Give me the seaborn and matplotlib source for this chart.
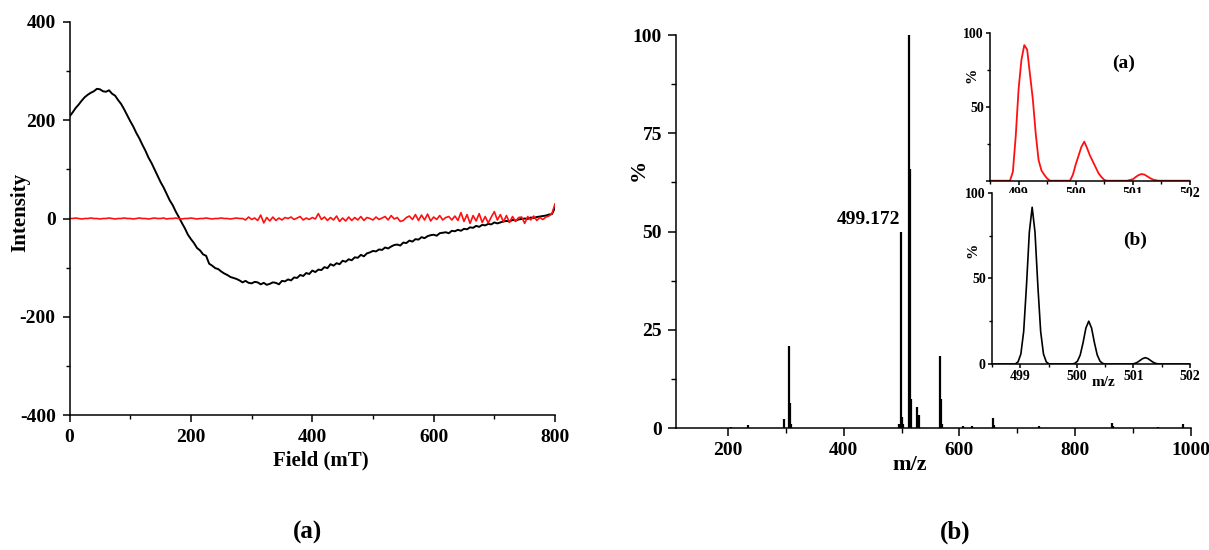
import numpy as np
import pandas as pd
import matplotlib
matplotlib.use("Agg")
import matplotlib.pyplot as plt
import seaborn as sns
from matplotlib.ticker import MultipleLocator, FixedLocator

# ---------------- data ----------------
# EPR spectra, sampled every 5 mT from 0 to 800 mT
field_step = 5
epr_sample = [
    208, 216, 225, 232, 240, 247, 252, 256, 259, 264,
    263, 259, 258, 261, 254, 250, 241, 233, 222, 210,
    198, 187, 174, 163, 150, 138, 124, 113, 100, 87,
    74, 63, 50, 37, 27, 14, 3, -9, -20, -33,
    -42, -50, -60, -65, -73, -76, -92, -96, -101, -103,
    -108, -112, -115, -119, -121, -123, -126, -130, -127, -131,
    -132, -129, -130, -134, -131, -135, -133, -130, -131, -134,
    -127, -128, -124, -126, -120, -121, -115, -117, -111, -113,
    -106, -109, -104, -105, -99, -101, -93, -96, -91, -93,
    -86, -88, -83, -85, -79, -80, -74, -77, -71, -69,
    -66, -67, -63, -64, -59, -61, -57, -54, -53, -55,
    -49, -50, -45, -47, -42, -43, -38, -40, -36, -34,
    -33, -35, -30, -29, -28, -30, -25, -26, -23, -25,
    -21, -22, -18, -19, -15, -17, -13, -14, -11, -12,
    -8, -10, -8, -6, -5, -6, -3, -4, -2, -1,
    0, -1, 2, 1, 3, 4, 5, 6, 8, 9,
    22,
]
epr_blank = [
    0, 0, 1, 0, -1, 0, 0, 1, 0, 0,
    -1, 0, 0, 1, 0, -1, 0, 0, 1, 0,
    0, -1, 0, 1, 0, 0, -1, 0, 1, 0,
    0, 1, -1, 0, 0, 1, 0, -1, 0, 0,
    1, 0, -1, 0, 0, 1, 0, -1, 0, 0,
    1, 0, 0, -1, 0, 1, 0, 0, -3, 3,
    -2, 1, -4, 7, -9, 2, -5, 3, -4, 1,
    -3, 2, 0, 3, -2, 1, 4, -3, 1, -2,
    2, -1, 10, -2, 3, -4, 2, -3, 5, -6,
    1, -5, 3, -4, 2, -3, 4, -4, 2, 0,
    -3, 3, -2, 1, 4, -3, 6, -1, 2, -6,
    -4, 2, 5, -2, 8, -4, 7, -3, 9, -5,
    3, -2, 6, -3, 2, 4, -3, 5, -4, 12,
    -6, 8, -10, 6, -5, 10, -8, 4, -9, 3,
    14, -3, 8, -7, 6, -8, 4, -6, 2, 3,
    -10, 4, -3, 5, -4, 2, -2, 3, 5, 10,
    30,
]
field = np.arange(len(epr_sample)) * field_step

# Mass spectrum sticks
ms_mz = [205, 234, 296, 306, 307.5, 309, 496, 499.2, 501, 503, 513, 514,
         515.5, 526.5, 530, 566.5, 568, 570, 606, 621, 658.5, 660, 738,
         863.5, 865, 944, 986.5]
ms_int = [0.4, 0.8, 2.3, 20.8, 6.5, 1.2, 1.2, 49.8, 3.0, 1.0, 100, 66,
          7.4, 5.4, 3.5, 18.5, 7.4, 1.0, 0.5, 0.5, 2.7, 0.9, 0.5,
          1.4, 0.7, 0.3, 1.1]

# Inset (a): measured isotope pattern
iso_a_mz = [498.5, 498.85, 498.9, 498.95, 499.0, 499.05, 499.1, 499.15, 499.2,
            499.25, 499.3, 499.35, 499.4, 499.45, 499.5, 499.55, 499.9, 499.95,
            500.0, 500.05, 500.1, 500.15, 500.2, 500.25, 500.3, 500.35, 500.4,
            500.45, 500.5, 500.55, 500.9, 501.0, 501.05, 501.1, 501.15, 501.2,
            501.25, 501.3, 501.35, 501.4, 501.45, 502.0]
iso_a_pct = [0, 0, 6, 30, 62, 82, 92, 89, 72,
             55, 32, 14, 7, 4, 1.5, 0, 0, 4,
             11, 17, 23, 26.5, 22, 17, 13, 9, 5,
             2.5, 0.5, 0, 0, 1, 2.5, 3.8, 4.5, 4.2,
             3, 1.8, 0.8, 0.3, 0, 0]

# Inset (b): simulated isotope pattern
iso_b_mz = [498.5,
            498.91, 498.96, 499.01, 499.06, 499.11, 499.16, 499.21, 499.26, 499.31, 499.36, 499.41, 499.46, 499.51,
            499.91, 499.96, 500.01, 500.06, 500.11, 500.16, 500.21, 500.26, 500.31, 500.36, 500.41, 500.46, 500.51,
            500.91, 500.96, 501.01, 501.06, 501.11, 501.16, 501.21, 501.26, 501.31, 501.36, 501.41, 501.46, 501.51,
            502.0]
iso_b_pct = [0,
             0, 1.2, 5.8, 19, 46, 77, 91.5, 77, 46, 19, 5.8, 1.2, 0,
             0, 0.3, 1.6, 5.3, 12.5, 21, 25, 21, 12.5, 5.3, 1.6, 0.3, 0,
             0, 0.05, 0.2, 0.8, 1.9, 3.1, 3.7, 3.1, 1.9, 0.8, 0.2, 0.05, 0,
             0]

# ---------------- style ----------------
sns.set_theme(style="ticks")
plt.rcParams['font.family'] = ['Liberation Serif', 'DejaVu Serif']
plt.rcParams['font.weight'] = 'bold'
plt.rcParams['axes.labelweight'] = 'bold'
plt.rcParams['axes.edgecolor'] = 'black'
plt.rcParams['xtick.color'] = 'black'
plt.rcParams['ytick.color'] = 'black'
plt.rcParams['text.color'] = 'black'
plt.rcParams['axes.labelcolor'] = 'black'
plt.rcParams['axes.unicode_minus'] = False

W, H = 1209, 550
fig = plt.figure(figsize=(W / 100, H / 100), dpi=100)
fig.patch.set_facecolor('white')


def rect(l, t, r, b):
    return [l / W, 1 - b / H, (r - l) / W, (b - t) / H]


def fpx(x, y):
    return x / W, 1 - y / H


def style_axis(ax, fs, major_len, minor_len, pad):
    sns.despine(ax=ax)
    for s in ('left', 'bottom'):
        ax.spines[s].set_linewidth(1.1)
    ax.tick_params(which='major', direction='out', length=major_len, width=1.1,
                   labelsize=fs, pad=pad)
    ax.tick_params(which='minor', direction='out', length=minor_len, width=1.0)
    ax.set_facecolor('white')


def place_labels(ax, xlab, xpos, ylab, ypos, fs):
    ax.set_xlabel(xlab, fontsize=fs, fontweight='bold')
    ax.set_ylabel(ylab, fontsize=fs, fontweight='bold')
    ax.xaxis.set_label_coords(*fpx(*xpos), transform=fig.transFigure)
    ax.yaxis.set_label_coords(*fpx(*ypos), transform=fig.transFigure)
    ax.xaxis.label.set_va('center')
    ax.yaxis.label.set_va('center')
    ax.yaxis.label.set_ha('center')


# ---------------- left: EPR ----------------
ax1 = fig.add_axes(rect(69.6, 22, 555, 415))
df_epr = pd.DataFrame({'field': field, 'sample': epr_sample, 'blank': epr_blank})
sns.lineplot(data=df_epr, x='field', y='sample', ax=ax1, color='black', lw=1.4)
sns.lineplot(data=df_epr, x='field', y='blank', ax=ax1, color='#ff1010', lw=1.2)
ax1.set_xlim(0, 800)
ax1.set_ylim(-400, 400)
ax1.xaxis.set_major_locator(MultipleLocator(200))
ax1.xaxis.set_minor_locator(MultipleLocator(100))
ax1.yaxis.set_major_locator(MultipleLocator(200))
ax1.yaxis.set_minor_locator(MultipleLocator(100))
style_axis(ax1, 14, 5, 3, 5)
place_labels(ax1, 'Field (mT)', (321, 460), 'Intensity', (20, 212), 15)

# ---------------- right: mass spectrum ----------------
ax2 = fig.add_axes(rect(676, 35, 1190.7, 428.3))
ax2.vlines(ms_mz, 0, ms_int, color='black', lw=1.6)
ax2.set_xlim(110, 1000)
ax2.set_ylim(0, 100)
ax2.xaxis.set_major_locator(MultipleLocator(200))
ax2.xaxis.set_minor_locator(MultipleLocator(100))
ax2.yaxis.set_major_locator(MultipleLocator(25))
ax2.yaxis.set_minor_locator(MultipleLocator(12.5))
style_axis(ax2, 14, 6, 3.5, 4)
place_labels(ax2, 'm/z', (910, 465), '%', (639, 170), 16)
ax2.text(498, 53.2, '499.172', ha='right', va='center', fontsize=14,
         fontweight='bold')

# ---------------- insets ----------------
axa = fig.add_axes(rect(990, 33.3, 1190, 180.7))
sns.lineplot(x=iso_a_mz, y=iso_a_pct, ax=axa, color='#ff1010', lw=1.3)
axb = fig.add_axes(rect(992, 192.7, 1190, 364))
sns.lineplot(x=iso_b_mz, y=iso_b_pct, ax=axb, color='black', lw=1.2)

for ax in (axa, axb):
    ax.set_xlim(498.5, 502)
    ax.set_ylim(0, 100)
    ax.xaxis.set_major_locator(FixedLocator([499, 500, 501, 502]))
    ax.xaxis.set_minor_locator(MultipleLocator(0.5))
    ax.yaxis.set_major_locator(FixedLocator([0, 50, 100]))
    ax.yaxis.set_minor_locator(MultipleLocator(25))
    style_axis(ax, 10, 3, 2, 1.5)

axa.set_yticklabels(['', '50', '100'])
place_labels(axa, 'm/z', (1101.7, 201.7), '%', (971.7, 75), 11)
place_labels(axb, 'm/z', (1103, 383), '%', (972.7, 250), 11)
fig.text(*fpx(1124, 63), '(a)', ha='center', va='center', fontsize=14,
         fontweight='bold')
fig.text(*fpx(1135, 240), '(b)', ha='center', va='center', fontsize=14,
         fontweight='bold')

# ---------------- panel captions ----------------
fig.text(*fpx(307, 532), '(a)', ha='center', va='center', fontsize=18,
         fontweight='bold')
fig.text(*fpx(955, 532), '(b)', ha='center', va='center', fontsize=18,
         fontweight='bold')

fig.savefig('out.png', dpi=100, facecolor='white')
